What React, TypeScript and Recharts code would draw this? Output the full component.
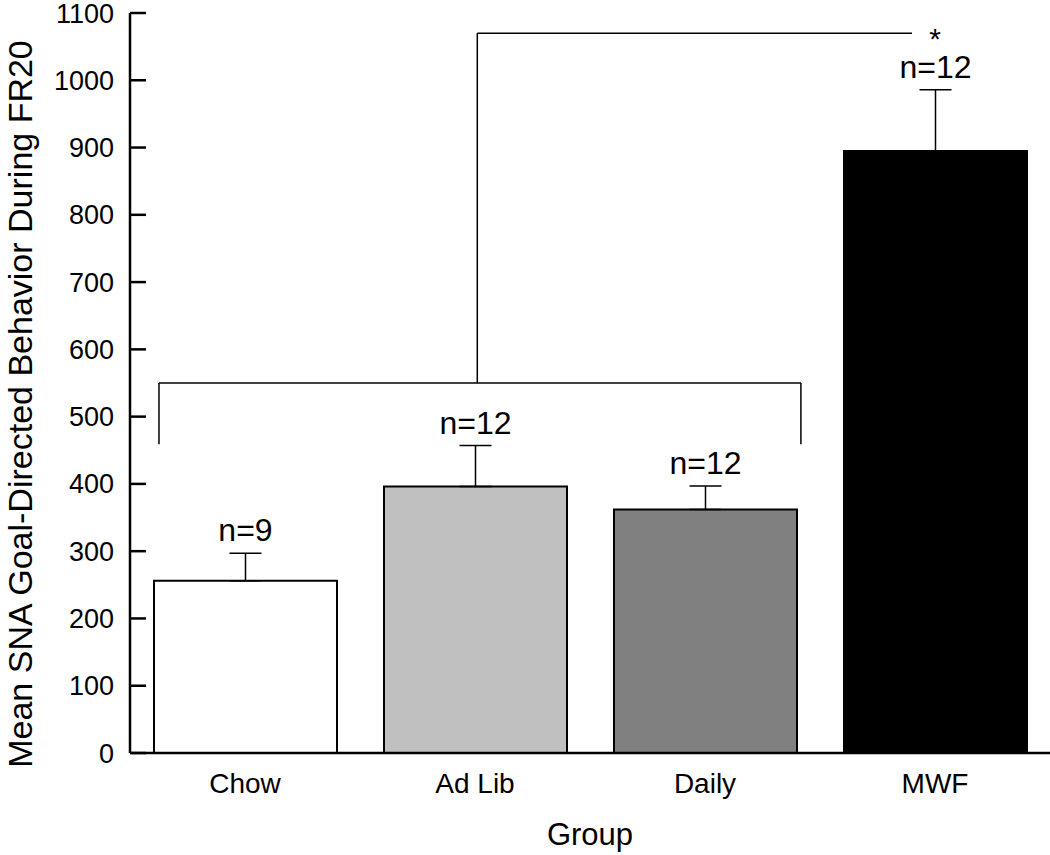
import React from "react";
import {
  BarChart,
  Bar,
  XAxis,
  YAxis,
  ErrorBar,
  Cell,
  LabelList,
  ReferenceLine,
  ReferenceDot,
} from "recharts";

const groups = ["Chow", "Ad Lib", "Daily", "MWF"];
const means = [256, 396, 362, 895];
const sems = [41, 61, 35, 91];
const nLabels = ["n=9", "n=12", "n=12", "n=12"];
const fills = ["#ffffff", "#c0c0c0", "#808080", "#000000"];
const yTicks = [0, 100, 200, 300, 400, 500, 600, 700, 800, 900, 1000, 1100];

// x positions on a 0..4 numeric axis, group i sits at i + 0.5
const groupPos = [0.5, 1.5, 2.5, 3.5];
const bracketLowX = [0.126, 2.917];
const bracketLowY = [459, 550];
const bracketStemX = 1.51;
const bracketTopY = 1070;
const bracketTopEndX = 3.4;
const starX = 3.5;

const data = groups.map((g, i) => ({
  group: g,
  pos: groupPos[i],
  mean: means[i],
  err: [0, sems[i]],
  n: nLabels[i],
  sem: sems[i],
}));

const FONT = "Arial, 'Liberation Sans', Helvetica, sans-serif";

function NLabel(props: any) {
  const { x, y, width, height, index } = props;
  const d = data[index];
  const pxPerUnit = height / d.mean;
  const top = y - d.sem * pxPerUnit;
  return (
    <text
      x={x + width / 2}
      y={top - 12}
      textAnchor="middle"
      fontSize={32}
      fontFamily={FONT}
      fill="#000"
    >
      {d.n}
    </text>
  );
}

export default function App() {
  const line = { stroke: "#000", strokeWidth: 1.5 };
  return (
    <div style={{ position: "fixed", left: 0, top: 0, background: "#fff" }}>
      <BarChart
        width={1050}
        height={855}
        data={data}
        margin={{ top: 13, right: 0, bottom: 0, left: 0 }}
      >
        <XAxis
          dataKey="pos"
          type="number"
          domain={[0, 4]}
          allowDataOverflow
          ticks={groupPos}
          interval={0}
          tickFormatter={(v: number) => groups[Math.floor(v)]}
          height={102}
          tickLine={false}
          tickSize={0}
          tickMargin={20}
          axisLine={{ stroke: "#000", strokeWidth: 2.5 }}
          tick={{ fill: "#000", fontSize: 28, fontFamily: FONT }}
          label={{
            content: (p: any) => (
              <text
                x={p.viewBox.x + p.viewBox.width / 2}
                y={845}
                textAnchor="middle"
                fontSize={31}
                fontFamily={FONT}
                fill="#000"
              >
                Group
              </text>
            ),
          }}
        />
        <YAxis
          width={130}
          domain={[0, 1100]}
          ticks={yTicks}
          interval={0}
          tickSize={-16}
          tickMargin={32}
          axisLine={{ stroke: "#000", strokeWidth: 2.5 }}
          tickLine={{ stroke: "#000", strokeWidth: 2.5 }}
          tick={{ fill: "#000", fontSize: 27, fontFamily: FONT }}
          label={{
            content: () => (
              <text
                x={32}
                y={404}
                transform="rotate(-90 32 404)"
                textAnchor="middle"
                fontSize={34}
                fontFamily={FONT}
                fill="#000"
              >
                Mean SNA Goal-Directed Behavior During FR20
              </text>
            ),
          }}
        />
        <Bar
          dataKey="mean"
          barSize={183}
          stroke="#000"
          strokeWidth={2}
          isAnimationActive={false}
        >
          {data.map((d, i) => (
            <Cell key={d.group} fill={fills[i]} />
          ))}
          <ErrorBar dataKey="err" width={16} stroke="#000" strokeWidth={1.5} />
          <LabelList dataKey="n" content={<NLabel />} />
        </Bar>

        <ReferenceLine
          segment={[
            { x: bracketLowX[0], y: bracketLowY[0] },
            { x: bracketLowX[0], y: bracketLowY[1] },
          ]}
          {...line}
          ifOverflow="visible"
        />
        <ReferenceLine
          segment={[
            { x: bracketLowX[0], y: bracketLowY[1] },
            { x: bracketLowX[1], y: bracketLowY[1] },
          ]}
          {...line}
          ifOverflow="visible"
        />
        <ReferenceLine
          segment={[
            { x: bracketLowX[1], y: bracketLowY[1] },
            { x: bracketLowX[1], y: bracketLowY[0] },
          ]}
          {...line}
          ifOverflow="visible"
        />
        <ReferenceLine
          segment={[
            { x: bracketStemX, y: bracketLowY[1] },
            { x: bracketStemX, y: bracketTopY },
          ]}
          {...line}
          ifOverflow="visible"
        />
        <ReferenceLine
          segment={[
            { x: bracketStemX, y: bracketTopY },
            { x: bracketTopEndX, y: bracketTopY },
          ]}
          {...line}
          ifOverflow="visible"
        />
        <ReferenceDot
          x={starX}
          y={bracketTopY}
          r={0}
          ifOverflow="visible"
          shape={(p: any) => (
            <text
              x={p.cx}
              y={p.cy + 16}
              textAnchor="middle"
              fontSize={30}
              fontFamily={FONT}
              fill="#000"
            >
              *
            </text>
          )}
        />
      </BarChart>
    </div>
  );
}
